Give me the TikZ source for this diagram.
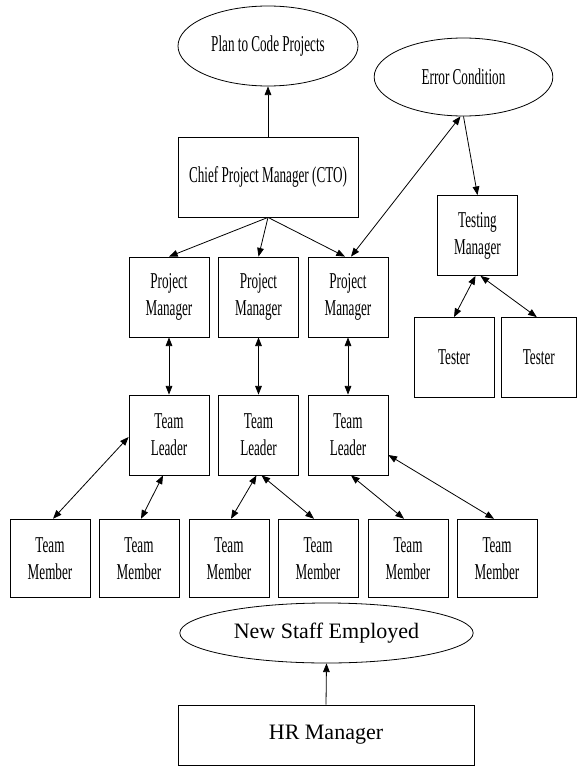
\documentclass[tikz,border=0pt]{standalone}
\usepackage{fontspec}
\setmainfont{Liberation Serif}
\usepackage{graphicx}
\usetikzlibrary{shapes.geometric,arrows.meta,calc}
\newcommand\nrw[1]{\scalebox{0.58}[1]{#1}}
\begin{document}
\begin{tikzpicture}[x=0.75pt,y=-0.75pt,
  base/.style={draw,line width=0.6pt,inner sep=0pt,font=\fontsize{16.5}{20.25}\selectfont,align=center},
  cfont/.style={font=\fontsize{17}{20.25}\selectfont},
  box/.style={base,cfont,rectangle,minimum width=60pt,minimum height=60pt},
  oval/.style={base,ellipse},
  link/.style={line width=0.6pt,-{Triangle[length=6.5pt,width=5pt]}},
  blink/.style={line width=0.6pt,{Triangle[length=6.5pt,width=5pt]}-{Triangle[length=6.5pt,width=5pt]}}]
\useasboundingbox (0,0) rectangle (578,767);
% top
\node[oval,cfont,minimum width=135pt,minimum height=60pt] (plan) at (268,46) {\nrw{Plan to Code Projects}};
\node[oval,cfont,minimum width=134pt,minimum height=58.5pt] (err) at (463.5,77) {\nrw{Error Condition}};
\node[box,minimum width=135pt] (cto) at (268,177) {\nrw{Chief Project Manager (CTO)}};
% project managers
\node[box] (pm1) at (169,297) {\nrw{Project}\\\nrw{Manager}};
\node[box] (pm2) at (258.5,297) {\nrw{Project}\\\nrw{Manager}};
\node[box] (pm3) at (348,297) {\nrw{Project}\\\nrw{Manager}};
% testing
\node[box] (tstm) at (477.5,235.5) {\nrw{Testing}\\\nrw{Manager}};
\node[box] (tes1) at (454,357.5) {\nrw{Tester}};
\node[box,minimum width=56.6pt] (tes2) at (538.8,357.5) {\nrw{Tester}};
% team leaders
\node[box] (tl1) at (169,435) {\nrw{Team}\\\nrw{Leader}};
\node[box] (tl2) at (258.5,435) {\nrw{Team}\\\nrw{Leader}};
\node[box] (tl3) at (348,435) {\nrw{Team}\\\nrw{Leader}};
% team members
\node[box,minimum height=59pt] (tm1) at (50,558.5) {\nrw{Team}\\\nrw{Member}};
\node[box,minimum height=59pt] (tm2) at (139,558.5) {\nrw{Team}\\\nrw{Member}};
\node[box,minimum height=59pt] (tm3) at (229,558.5) {\nrw{Team}\\\nrw{Member}};
\node[box,minimum height=59pt] (tm4) at (318,558.5) {\nrw{Team}\\\nrw{Member}};
\node[box,minimum height=59pt] (tm5) at (408,558.5) {\nrw{Team}\\\nrw{Member}};
\node[box,minimum height=59pt] (tm6) at (497,558.5) {\nrw{Team}\\\nrw{Member}};
% HR
\node[oval,minimum width=220pt,minimum height=45pt] (news) at (326.5,633) {New Staff Employed};
\node[base,rectangle,minimum width=222pt,minimum height=45pt] (hr) at (326,735) {HR Manager};
% connectors
\draw[link] (cto.north) -- (plan.south);
\draw[link] (cto.south) -- (pm1.north);
\draw[link] (cto.south) -- (pm2.north);
\draw[link] (cto.south) -- ($(pm3.north)+(-3,0)$);
\draw[blink] ($(pm3.north)+(3,0)$) -- ($(err.south)+(-3,0)$);
\draw[link] (err.south) -- (tstm.north);
\draw[blink] ($(tstm.south)+(-2,0)$) -- (tes1.north);
\draw[blink] ($(tstm.south)+(3,0)$) -- ($(tes2.north)+(-2,0)$);
\draw[blink] (pm1.south) -- (tl1.north);
\draw[blink] (pm2.south) -- (tl2.north);
\draw[blink] (pm3.south) -- (tl3.north);
\draw[blink] ($(tl1.west)+(0,2)$) -- ($(tm1.north)+(3,0)$);
\draw[blink] ($(tl1.south)+(-6,0)$) -- ($(tm2.north)+(2,0)$);
\draw[blink] ($(tl2.south)+(-2,0)$) -- ($(tm3.north)+(2,0)$);
\draw[blink] ($(tl2.south)+(3,0)$) -- ($(tm4.north)+(-4,0)$);
\draw[blink] ($(tl3.south)+(3,0)$) -- ($(tm5.north)+(-4,0)$);
\draw[blink] ($(tl3.east)+(0,20)$) -- ($(tm6.north)+(-3,0)$);
\draw[link] (hr.north) -- (news.south);
\end{tikzpicture}
\end{document}
